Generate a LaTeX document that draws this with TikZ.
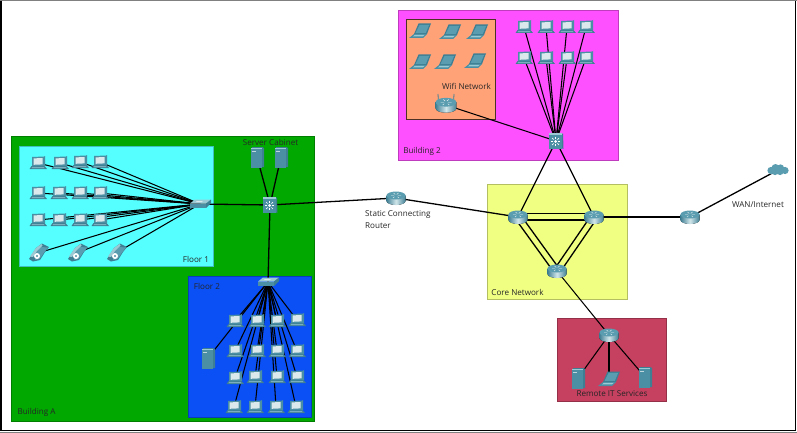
\documentclass[tikz,border=0pt]{standalone}
\usepackage{fontspec}
\setmainfont{Open Sans}
\tikzset{
  region/.style={draw=#1!75!black,line width=.6pt,fill=#1},
  link/.style={draw=black,line width=1.3pt},
  thinlink/.style={draw=black,line width=1.05pt},
  lbl/.style={inner sep=0pt,font=\fontsize{8.1}{11.5}\selectfont,text=black!85},
  pics/pc/.style={code={
    \fill[teal1] (-6.5,3) -- (6.5,3) -- (9,6) -- (-8.5,6) -- cycle;
    \fill[teal4] (-6,4.4) -- (6,4.4) -- (6.5,5.2) -- (-6.5,5.2) -- cycle;
    \fill[teal3] (-6,-6) -- (6,-6.5) -- (7,-7) -- (7,3) -- (-6,3.4) -- cycle;
    \fill[screen1] (-4.4,-4.6) -- (4.6,-5) -- (4.6,1.4) -- (-4.4,1.8) -- cycle;
  }},
  pics/laptop/.style={code={
    \fill[teal1] (-1.5,-7.5) -- (11,-7.5) -- (7,3) -- (-6,3) -- cycle;
    \fill[teal2] (-.4,-6.2) -- (9.2,-6.2) -- (5.8,1.8) -- (-4.4,1.8) -- cycle;
    \fill[teal3] (-6,3) -- (7,3) -- (3,7) -- (-11,7) -- cycle;
    \fill[teal4] (-5,3.8) -- (4.8,3.8) -- (2.8,5.4) -- (-7,5.4) -- cycle;
  }},
  pics/servericon/.style={code={
    \fill[teal1] (-5,-10) -- (5,-10) -- (7,-9) -- (7,10) -- (-5,10.5) -- cycle;
    \fill[teal3] (-6.5,-9) -- (5,-9) -- (5,10.5) -- (-6.5,10.5) -- cycle;
    \fill[teal4] (-6.5,-9.2) rectangle (5,-7.8);
    \fill[screen1!80!teal3] (-5,-6.5) rectangle (-1,-5.3);
  }},
  pics/router/.style={code={
    \fill[left color=teal1,right color=teal1,middle color=white!55!teal4]
       (-9.5,-2.5) -- (-9.5,3) arc[start angle=180,end angle=360,x radius=9.5,y radius=-4] -- (9.5,-2.5) -- cycle;
    \fill[teal2] (0,-2.5) ellipse[x radius=9.5,y radius=4];
    \draw[white!85!teal2,line width=.45pt] (-5,-2.5) -- (-1.8,-2.5) (1.8,-2.5) -- (5,-2.5) (-2.5,-5) -- (-.8,-3.6) (2.5,-5) -- (.8,-3.6) (-1.6,-1.2) -- (-3,0) (1.6,-1.2) -- (3,0);
  }},
  pics/apoint/.style={code={
    \draw[teal1,line width=.8pt] (-7.5,-2) -- (-8,-11) (7.5,-2) -- (8,-11);
    \pic[scale=1.1] {router};
  }},
  pics/swicon/.style={code={
    \fill[teal4] (-10,-.5) -- (-5,-4.5) -- (11,-4.5) -- (6,-.5) -- cycle;
    \fill[teal1] (6,-.5) -- (11,-4.5) -- (11,-1) -- (6,4) -- cycle;
    \fill[teal3] (-10,-.5) rectangle (6,4);
    \fill[screen1] (-3,-3) -- (3,-3) -- (1.5,-1.8) -- (-4.5,-1.8) -- cycle;
  }},
  pics/mlswitch/.style={code={
    \fill[teal1] (-6,-7.5) -- (7,-7.5) -- (7.5,7.5) -- (-6,8) -- cycle;
    \fill[teal3] (-7,-7) rectangle (6,8);
    \fill[teal4] (-7,-7.6) rectangle (6,-6.4);
    \foreach \a in {0,45,...,315}
      \draw[white,line width=.7pt] (-.5,.5) ++(\a:2.7) -- ++(\a:2.2);
    \fill[white] (-.5,.5) circle (1.5);
  }},
  pics/phone/.style={code={
    \fill[teal1] (-9,6) -- (-2,-5) -- (4,-9.5) -- (11,-6) -- (7,-1) -- (2,7) -- (-5,8.5) -- cycle;
    \fill[teal2] (-2,0) -- (3,-6) -- (10,-5.5) -- (6,-.5) -- (1.5,6) -- (-3,7) -- cycle;
    \fill[teal4] (-8,3.5) -- (-2,-5) -- (3.5,-9) -- (4.5,-7.5) -- (-1,-2) -- (-5,4) -- cycle;
    \fill[white] (-1,3) circle (3);
    \fill[teal3] (-1,3) circle (1.1);
  }},
  pics/cloudicon/.style={code={
    \fill[teal2] (-7,.5) circle (3.6) (-2.5,-2) circle (4) (2.5,-2) circle (3.6)
                 (7,.5) circle (3.6) (2,1.5) circle (3.6) (-3,1.5) circle (3.6);
  }},
}
\definecolor{teal1}{HTML}{3F7F93}
\definecolor{teal2}{HTML}{5B9DB0}
\definecolor{teal3}{HTML}{4A8FA3}
\definecolor{teal4}{HTML}{9CCAD4}
\definecolor{screen1}{HTML}{DCE9EC}
\definecolor{cgreen}{HTML}{00A800}
\definecolor{ccyan}{HTML}{55FFFF}
\definecolor{cblue}{HTML}{0A50F5}
\definecolor{cmag}{HTML}{FF50FF}
\definecolor{csalm}{HTML}{FFA278}
\definecolor{cyel}{HTML}{F0FF82}
\definecolor{cred}{HTML}{C64060}
\begin{document}
\begin{tikzpicture}[x=1pt,y=-1pt]
\useasboundingbox (0,0) rectangle (797,433);
\fill[white] (0,0) rectangle (797,433);
\fill[black!50] (0,0) rectangle (797,1);
\fill[black!50] (0,431.5) rectangle (797,433);
\draw[black,line width=1.3pt] (1,1) -- (1,430.8) -- (795.5,430.8) -- (795.5,1);
% regions
\path[region=cgreen] (11,136) rectangle (314,421);
\path[region=ccyan] (19,146) rectangle (213,266);
\path[region=cblue] (188,276) rectangle (311.5,417);
\path[region=cmag] (398,10) rectangle (618,160);
\path[fill=csalm,draw=black!70!csalm,line width=.8pt] (406,19) rectangle (495,119);
\path[region=cyel] (487,184) rectangle (627,299);
\path[region=cred] (557,318) rectangle (666,401);
% positions
\foreach \n/\x/\y in {
 fa/38/163,fb/60/163,fc/80/162,fd/100/162,
 fe/38/193,ff/59/193,fg/80/193,fh/100/193,
 fi/38/220,fj/59/220,fk/80/220,fl/100/220,
 pa/38/253,pb/77/253,pc/116/253,
 swa/200/204,ml/270/205,sa/257/157,sb/281/157,
 ga/235/321,gb/257/321,gc/277/321,gd/297/320,
 ge/235/351,gf/257/351,gg/277/351,gh/297/351,
 gi/235/378,gj/255/377,gk/277/377,gl/297/377,
 gm/234/407,gn/255/407,go/276/407,gp/296/407,
 sc/208/358,
 st/396/198,
 ha/524/27,hb/546/27,hc/567/27,hd/586/27,
 he/524/58,hf/546/58,hg/567/58,hh/586/58,
 mlb/556/141,ap/446/105,
 la/420/31,lb/450/32,lc/477/32,ld/420/62,le/445/62,lf/475/61,
 ca/518/217,cb/594/217,cc/557/271,
 rr/609/335,ra/578/378,rb/609/379,rc/645/377,
 wr/690/217,cl/778/170}
 {\coordinate (\n) at (\x,\y);}
\coordinate (swb) at (268,282);
% connectors
\foreach \n in {fa,fb,fc,fd,fe,ff,fg,fh,fi,fj,fk,fl,pa,pb,pc}
  \draw[thinlink] (\n) -- (swa);
\foreach \n in {ga,gb,gc,gd,ge,gf,gg,gh,gi,gj,gk,gl,gm,gn,go,gp,sc}
  \draw[thinlink] (\n) -- (swb);
\foreach \n in {ha,hb,hc,hd,he,hf,hg,hh,ap}
  \draw[thinlink] (\n) -- (mlb);
\draw[link] (swa) -- (ml);
\draw[link] (sa) -- (ml);
\draw[link] (sb) -- (ml);
\draw[link] (ml) -- (swb);
\draw[link] (ml) -- (st);
\draw[link] (st) -- (ca);
\draw[link] (mlb) -- (ca);
\draw[link] (mlb) -- (cb);
\draw[link] ([yshift=3.5pt]ca.center) -- ([yshift=3.5pt]cb.center);
\draw[link] ([yshift=-3pt]ca.center) -- ([yshift=-3pt]cb.center);
\draw[link] ([xshift=-2.5pt,yshift=-2pt]ca.center) -- ([xshift=-2.5pt,yshift=-2pt]cc.center);
\draw[link] ([xshift=2.5pt,yshift=2pt]ca.center) -- ([xshift=2.5pt,yshift=2pt]cc.center);
\draw[link] ([xshift=-2.5pt,yshift=2pt]cb.center) -- ([xshift=-2.5pt,yshift=2pt]cc.center);
\draw[link] ([xshift=2.5pt,yshift=-2pt]cb.center) -- ([xshift=2.5pt,yshift=-2pt]cc.center);
\draw[link] (cb) -- (wr);
\draw[link] (wr) -- (cl);
\draw[thinlink] (cc) -- (rr);
\foreach \n in {ra,rb,rc} \draw[thinlink] (rr) -- (\n);
% icons
\foreach \n in {fa,fb,fc,fd,fe,ff,fg,fh,fi,fj,fk,fl,
   ga,gb,gc,gd,ge,gf,gg,gh,gi,gj,gk,gl,gm,gn,go,gp,
   ha,hb,hc,hd,he,hf,hg,hh}
  \pic at (\n) {pc};
\foreach \n in {pa,pb,pc} \pic at (\n) {phone};
\foreach \n in {sa,sb,sc,ra,rc} \pic at (\n) {servericon};
\foreach \n in {la,lb,lc,ld,le,lf,rb} \pic at (\n) {laptop};
\foreach \n in {st,ca,cb,cc,rr,wr} \pic at (\n) {router};
\pic at (ap) {apoint};
\foreach \n in {swa,swb} \pic at (\n) {swicon};
\foreach \n in {ml,mlb} \pic at (\n) {mlswitch};
\pic at (cl) {cloudicon};
% labels
\node[lbl] (tsc) at (270.5,142) {Server Cabinet};
\node[lbl] (tf1) at (196,259) {Floor 1};
\node[lbl] (tf2) at (207,286) {Floor 2};
\node[lbl] (tba) at (36.5,412) {Building A};
\node[lbl] (tb2) at (422,151) {Building 2};
\node[lbl] (twf) at (466.5,86) {Wifi Network};
\node[lbl,align=left,anchor=west] (tst) at (365,219.5) {Static Connecting\\Router};
\node[lbl] (tcn) at (517.5,292) {Core Network};
\node[lbl] (tit) at (612,394) {Remote IT Services};
\node[lbl] (twa) at (758,205) {WAN/Internet};
\end{tikzpicture}
\end{document}
